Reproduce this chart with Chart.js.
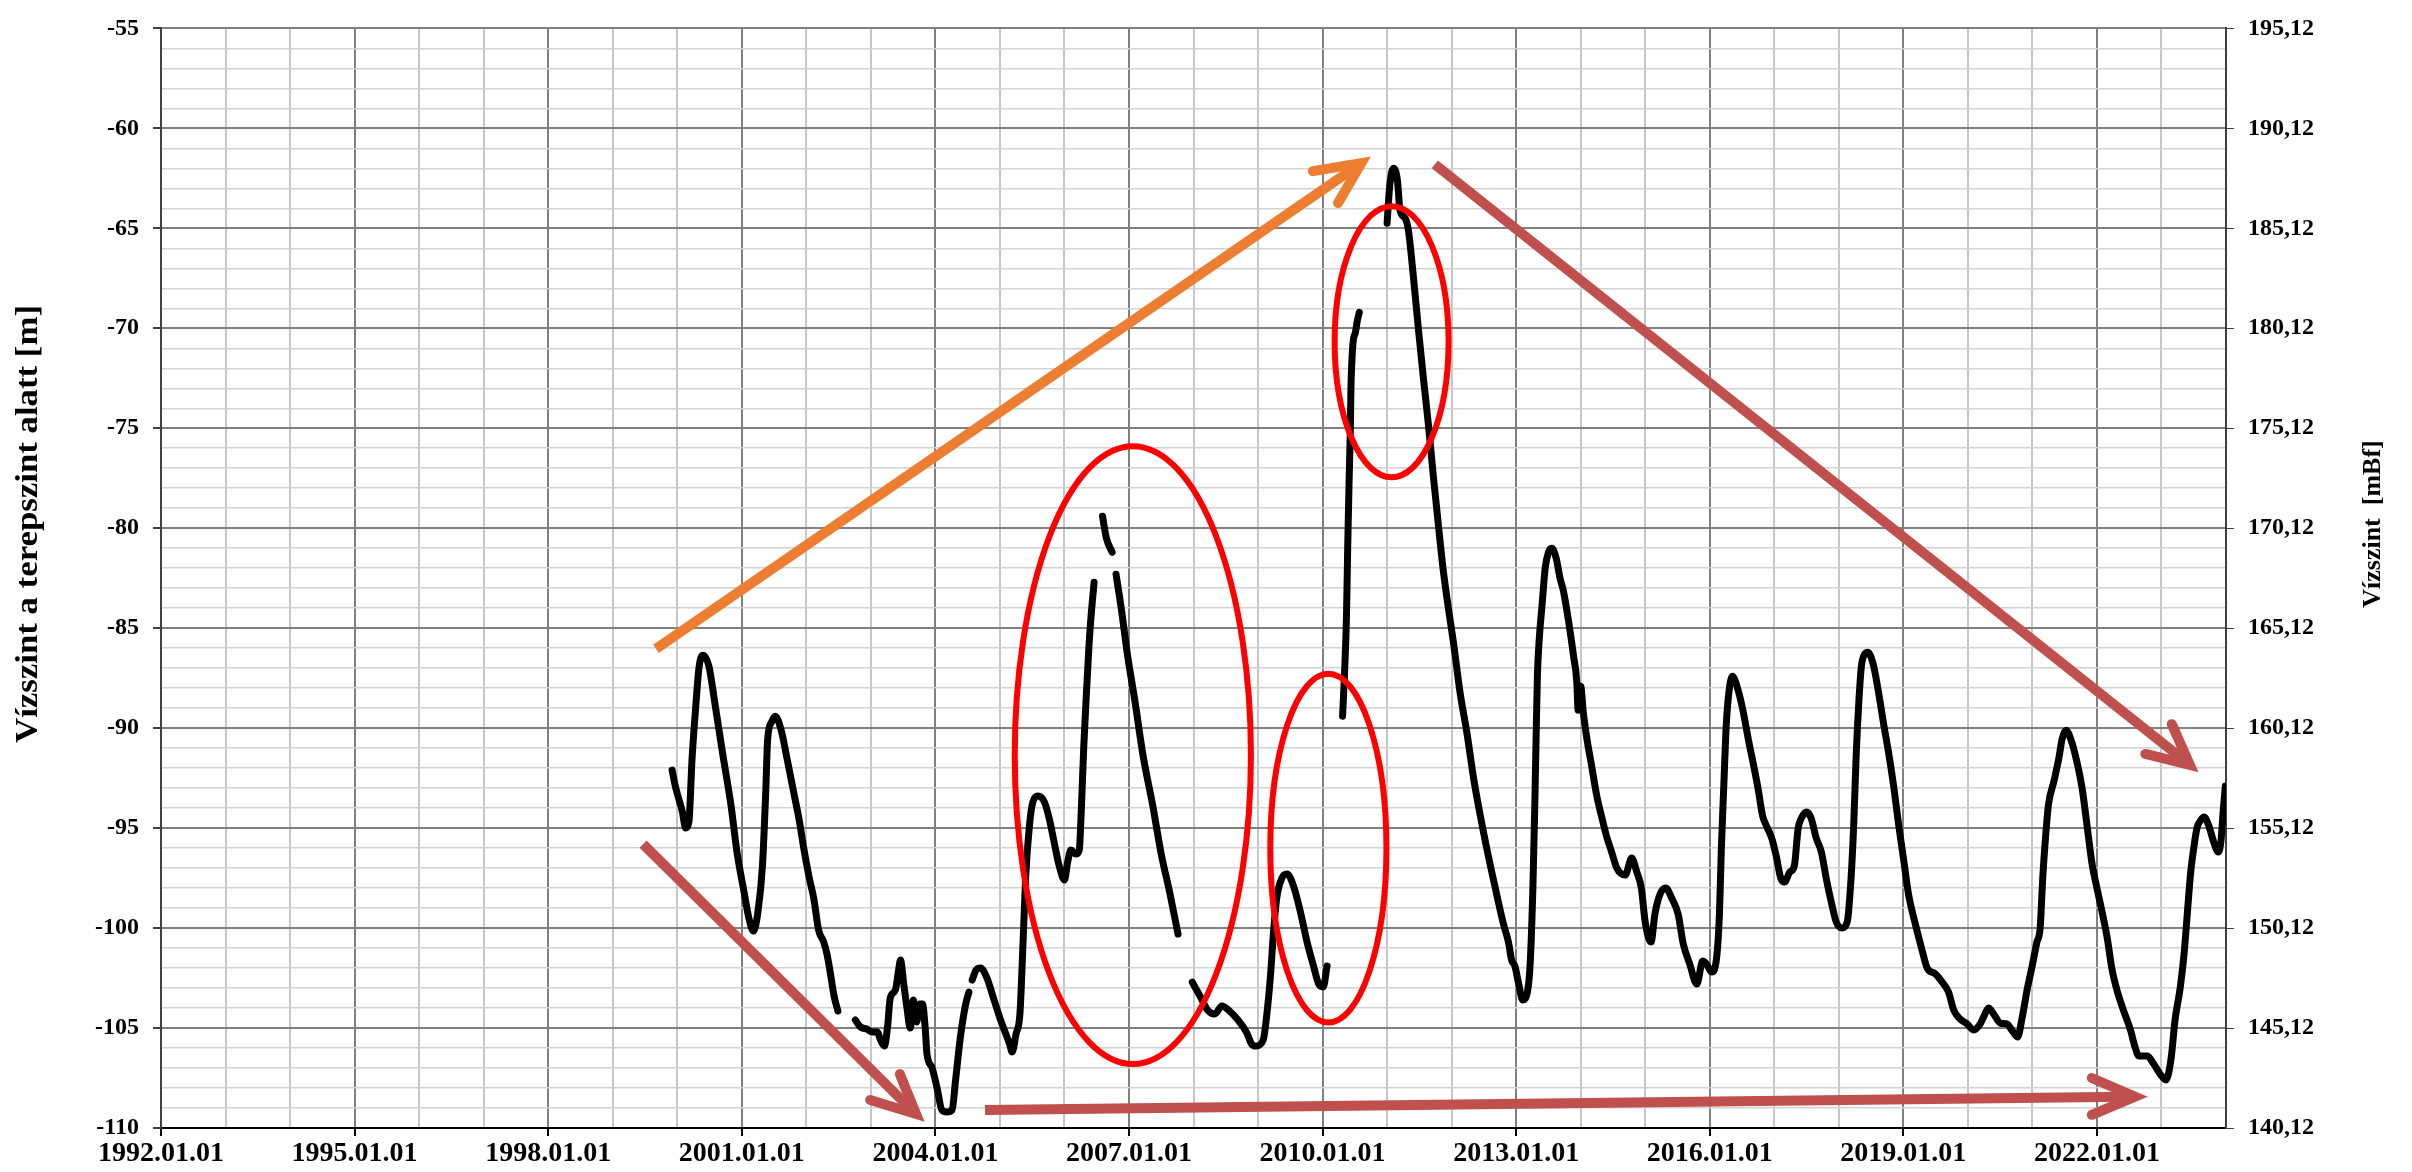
<!DOCTYPE html>
<html>
<head>
<meta charset="utf-8">
<script src="https://cdn.jsdelivr.net/npm/chart.js@4.4.1/dist/chart.umd.min.js"></script>
<style>
    html, body { margin: 0; padding: 0; background: #fff; }
    #wrap { width: 2412px; height: 1172px; position: relative; }
</style>
</head>
<body>
<div id="wrap"><canvas id="chart"></canvas></div>
<script>
'use strict';

// idopontok tizedes evben; a null szintu elemek a meresi szuneteket jelolik
var dates = [
    1999.92, 1999.97, 2000.02, 2000.08, 2000.13, 2000.18, 2000.23, 2000.28, 2000.34, 2000.40,
    2000.49, 2000.59, 2000.70, 2000.83, 2000.93, 2001.03, 2001.11, 2001.18, 2001.25, 2001.32,
    2001.37, 2001.40, 2001.46, 2001.52, 2001.61, 2001.70, 2001.81, 2001.89, 2001.96, 2002.04,
    2002.12, 2002.19, 2002.27, 2002.32, 2002.37, 2002.43, 2002.49, 2002.62,
    2002.76, 2002.84, 2002.94, 2003.02, 2003.10, 2003.15, 2003.21, 2003.26, 2003.30, 2003.38,
    2003.43, 2003.46, 2003.51, 2003.56, 2003.61, 2003.66, 2003.71, 2003.76, 2003.80, 2003.84,
    2003.87, 2003.95, 2004.03, 2004.10, 2004.18, 2004.26, 2004.31, 2004.39, 2004.47, 2004.52, 2004.545,
    2004.57, 2004.63, 2004.70, 2004.80, 2004.90, 2005.00, 2005.08, 2005.15, 2005.19, 2005.25,
    2005.31, 2005.36, 2005.40, 2005.46, 2005.51, 2005.59, 2005.69, 2005.77, 2005.84, 2005.92,
    2006.00, 2006.05, 2006.10, 2006.18, 2006.23, 2006.26, 2006.30, 2006.34, 2006.38, 2006.41, 2006.46, 2006.52,
    2006.59, 2006.65, 2006.74, 2006.77,
    2006.80, 2006.88, 2006.98, 2007.09, 2007.22, 2007.37, 2007.50, 2007.63, 2007.76, 2007.87,
    2007.98, 2008.10, 2008.23, 2008.33, 2008.44, 2008.56, 2008.69, 2008.82, 2008.90, 2008.97,
    2009.08, 2009.13, 2009.19, 2009.24, 2009.29, 2009.37, 2009.45, 2009.55, 2009.65, 2009.76,
    2009.86, 2009.94, 2010.01, 2010.07, 2010.19,
    2010.31, 2010.34, 2010.37, 2010.39, 2010.41, 2010.43, 2010.44, 2010.47, 2010.51, 2010.54, 2010.57, 2010.78,
    2011.00, 2011.04, 2011.10, 2011.16, 2011.20, 2011.28, 2011.33, 2011.41, 2011.49, 2011.56,
    2011.64, 2011.72, 2011.80, 2011.87, 2011.95, 2012.03, 2012.13, 2012.24, 2012.34, 2012.44,
    2012.55, 2012.67, 2012.80, 2012.88, 2012.93, 2012.98, 2013.04, 2013.10, 2013.18, 2013.22,
    2013.26, 2013.29, 2013.31, 2013.33, 2013.36, 2013.40, 2013.45, 2013.50, 2013.55, 2013.62,
    2013.68, 2013.73, 2013.81, 2013.89, 2013.94, 2013.96, 2014.00, 2014.04, 2014.09, 2014.17,
    2014.25, 2014.33, 2014.40, 2014.48, 2014.56, 2014.69, 2014.79, 2014.87, 2014.94, 2015.00,
    2015.09, 2015.15, 2015.23, 2015.32, 2015.41, 2015.51, 2015.59, 2015.69, 2015.80, 2015.89,
    2015.95, 2016.03, 2016.10, 2016.15, 2016.18, 2016.22, 2016.25, 2016.29, 2016.35, 2016.44,
    2016.52, 2016.60, 2016.67, 2016.75, 2016.82, 2016.88, 2016.96, 2017.03, 2017.10, 2017.16,
    2017.24, 2017.31, 2017.37, 2017.42, 2017.50, 2017.57, 2017.65, 2017.73, 2017.81, 2017.89,
    2017.96, 2018.05, 2018.13, 2018.19, 2018.23, 2018.27, 2018.31, 2018.35, 2018.40, 2018.45,
    2018.54, 2018.62, 2018.70, 2018.77, 2018.85, 2018.93, 2019.01, 2019.08, 2019.19, 2019.29,
    2019.37, 2019.50, 2019.60, 2019.70, 2019.78, 2019.88, 2019.99, 2020.09, 2020.19, 2020.25,
    2020.32, 2020.40, 2020.50, 2020.61, 2020.68, 2020.77, 2020.84, 2020.92, 2020.99, 2021.07,
    2021.12, 2021.16, 2021.20, 2021.25, 2021.33, 2021.41, 2021.46, 2021.52, 2021.61, 2021.69,
    2021.77, 2021.84, 2021.92, 2022.00, 2022.08, 2022.16, 2022.23, 2022.31, 2022.41, 2022.52,
    2022.59, 2022.65, 2022.78, 2022.88, 2022.98, 2023.07, 2023.15, 2023.21, 2023.29, 2023.35,
    2023.40, 2023.45, 2023.50, 2023.55, 2023.61, 2023.66, 2023.73, 2023.81, 2023.88, 2023.92,
    2023.96, 2023.99
];

// vizszint a terepszint alatt [m]
var levels = [
    -92.1, -92.9, -93.5, -94.2, -95.0, -94.7, -91.5, -89.2, -86.9, -86.35,
    -86.9, -88.9, -91.2, -93.8, -96.3, -98.1, -99.5, -100.15, -99.2, -96.9,
    -93.3, -90.6, -89.7, -89.4, -90.1, -91.5, -93.3, -94.6, -96.0, -97.4,
    -98.6, -100.1, -100.7, -101.3, -102.2, -103.4, -104.15, null,
    -104.6, -104.95, -105.05, -105.2, -105.2, -105.6, -105.9, -104.9, -103.5, -103.1,
    -102.1, -101.6, -102.8, -104.0, -105.0, -103.6, -104.7, -103.8, -103.8, -104.9,
    -106.3, -107.0, -108.05, -109.1, -109.2, -109.1, -107.7, -105.4, -103.8, -103.2, null,
    -102.6, -102.1, -102.0, -102.5, -103.5, -104.5, -105.2, -105.8, -106.2, -105.3,
    -104.3, -100.6, -97.4, -94.8, -93.7, -93.4, -93.7, -94.6, -95.7, -96.9,
    -97.6, -96.7, -96.1, -96.3, -96.1, -94.2, -90.9, -88.3, -85.9, -84.5, -82.7, null,
    -79.4, -80.5, -81.2, null,
    -82.3, -84.0, -86.4, -88.6, -91.4, -93.9, -96.3, -98.2, -100.3, null,
    -102.7, -103.4, -104.15, -104.3, -103.9, -104.15, -104.6, -105.2, -105.8, -105.9,
    -105.6, -104.5, -102.5, -100.2, -98.5, -97.5, -97.3, -97.9, -99.1, -100.7,
    -101.9, -102.8, -102.95, -101.9, null,
    -89.4, -87.3, -84.5, -80.9, -77.8, -75.1, -73.0, -70.8, -70.2, -69.6, -69.2, null,
    -64.75, -62.9, -62.0, -62.6, -64.1, -64.5, -65.1, -67.5, -70.2, -72.4,
    -74.8, -77.5, -80.0, -82.1, -84.0, -85.75, -88.2, -90.3, -92.5, -94.3,
    -96.1, -97.9, -99.75, -100.7, -101.6, -101.9, -102.8, -103.6, -103.1, -101.6,
    -97.9, -93.7, -90.3, -87.3, -85.45, -83.9, -82.0, -81.2, -81.0, -81.5,
    -82.5, -83.1, -84.6, -86.4, -87.7, -89.1, -87.9, -89.2, -90.4, -91.9,
    -93.4, -94.5, -95.4, -96.2, -97.0, -97.35, -96.5, -97.2, -98.0, -99.7,
    -100.7, -99.3, -98.3, -98.0, -98.5, -99.3, -100.8, -101.8, -102.8, -101.65,
    -101.8, -102.2, -101.65, -99.3, -96.0, -92.7, -90.2, -88.4, -87.4, -88.1,
    -89.2, -90.6, -91.7, -93.05, -94.4, -94.9, -95.5, -96.4, -97.5, -97.7,
    -97.2, -96.9, -95.0, -94.5, -94.2, -94.5, -95.5, -96.2, -97.6, -98.8,
    -99.7, -100.0, -99.7, -97.5, -94.9, -91.3, -88.7, -86.9, -86.3, -86.2,
    -86.9, -88.3, -89.9, -91.2, -92.9, -94.9, -96.7, -98.3, -99.85, -101.1,
    -102.0, -102.3, -102.7, -103.2, -104.1, -104.55, -104.8, -105.1, -104.8, -104.4,
    -104.0, -104.3, -104.75, -104.8, -105.1, -105.45, -104.5, -103.05, -102.0, -100.7,
    -100.0, -97.5, -95.6, -93.8, -92.7, -91.5, -90.55, -90.1, -90.7, -91.7,
    -93.0, -94.7, -96.7, -98.0, -99.2, -100.5, -102.0, -103.1, -104.1, -105.1,
    -105.95, -106.4, -106.4, -106.8, -107.3, -107.6, -106.5, -104.6, -103.0, -101.3,
    -99.3, -97.3, -96.0, -95.0, -94.6, -94.45, -94.85, -95.7, -96.2, -95.7,
    -94.0, -92.9
];

// tengelyfeliratok
var xTickLabels = ['1992.01.01', '1995.01.01', '1998.01.01', '2001.01.01', '2004.01.01', '2007.01.01',
    '2010.01.01', '2013.01.01', '2016.01.01', '2019.01.01', '2022.01.01'];
var leftTickLabels = ['-110', '-105', '-100', '-95', '-90', '-85', '-80', '-75', '-70', '-65', '-60', '-55'];
var rightTickLabels = ['140,12', '145,12', '150,12', '155,12', '160,12', '165,12', '170,12', '175,12',
    '180,12', '185,12', '190,12', '195,12'];
var leftTitle = 'Vízszint a terepszint alatt [m]';
var rightTitle = 'Vízszint  [mBf]';

// kezzel rajzolt jelolesek (ev, szint koordinatakban)
var arrows = [
    { color: '#ED7D31', width: 10, from: [1999.67, -86.03], to: [2010.60, -61.74], barbs: [[2009.85, -62.14], [2010.24, -63.73]] },
    { color: '#C0504D', width: 10, from: [2011.74, -61.8], to: [2023.44, -91.84], barbs: [[2022.75, -91.29], [2023.16, -89.8]] },
    { color: '#C0504D', width: 10, from: [1999.47, -95.8], to: [2003.70, -109.3], barbs: [[2002.99, -108.6], [2003.45, -107.3]] },
    { color: '#C0504D', width: 10, from: [2004.77, -109.1], to: [2022.59, -108.43], barbs: [[2021.92, -107.5], [2021.92, -109.34]] }
];
var ellipses = [
    { center: [2007.06, -91.35], rx: 1.83, ry: 15.45 },
    { center: [2010.09, -96.0], rx: 0.9, ry: 8.72 },
    { center: [2011.07, -70.67], rx: 0.883, ry: 6.78 }
];

var FONT = "'Liberation Serif', 'Times New Roman', serif";

var points = dates.map(function (d, i) {
    return { x: d, y: levels[i] };
});

function isMajorYear(v) {
    return (v - 1992) % 3 === 0;
}

// jelolesek rajzolasa a vonal fole
var markup = {
    id: 'markup',
    afterDatasetsDraw: function (chart) {
        var c = chart.ctx;
        var sx = chart.scales.x;
        var sy = chart.scales.y;
        function px(p) {
            return [sx.getPixelForValue(p[0]), sy.getPixelForValue(p[1])];
        }
        c.save();
        ellipses.forEach(function (e) {
            var cp = px(e.center);
            var rx = Math.abs(sx.getPixelForValue(e.center[0] + e.rx) - cp[0]);
            var ry = Math.abs(sy.getPixelForValue(e.center[1] + e.ry) - cp[1]);
            c.beginPath();
            c.ellipse(cp[0], cp[1], rx, ry, 0, 0, Math.PI * 2);
            c.strokeStyle = '#FF0000';
            c.lineWidth = 6;
            c.stroke();
        });
        arrows.forEach(function (a) {
            var f = px(a.from);
            var t = px(a.to);
            var b1 = px(a.barbs[0]);
            var b2 = px(a.barbs[1]);
            var len = Math.hypot(t[0] - f[0], t[1] - f[1]);
            var k = (len - a.width) / len;
            c.strokeStyle = a.color;
            c.lineWidth = a.width;
            c.lineCap = 'butt';
            c.beginPath();
            c.moveTo(f[0], f[1]);
            c.lineTo(f[0] + (t[0] - f[0]) * k, f[1] + (t[1] - f[1]) * k);
            c.stroke();
            c.lineCap = 'round';
            c.lineJoin = 'miter';
            c.beginPath();
            c.moveTo(b1[0], b1[1]);
            c.lineTo(t[0], t[1]);
            c.lineTo(b2[0], b2[1]);
            c.stroke();
        });
        c.restore();
    },
    afterDraw: function (chart) {
        var c = chart.ctx;
        // fuggoleges tengelycim, hossza a mintahoz igazitva
        function vertical(text, x, y, size, length) {
            c.save();
            c.font = 'bold ' + size + 'px ' + FONT;
            var k = length ? length / c.measureText(text).width : 1;
            c.translate(x, y);
            c.rotate(-Math.PI / 2);
            c.scale(k, 1);
            c.fillStyle = '#000';
            c.textAlign = 'center';
            c.textBaseline = 'middle';
            c.fillText(text, 0, 0);
            c.restore();
        }
        vertical(leftTitle, 29, 524, 31, 438);
        vertical(rightTitle, 2373, 524, 26, 0);
    }
};

new Chart(document.getElementById('chart'), {
    type: 'line',
    data: {
        datasets: [{
            label: 'Vízszint',
            data: points,
            borderColor: '#000',
            borderWidth: 7,
            borderJoinStyle: 'round',
            borderCapStyle: 'round',
            pointRadius: 0,
            spanGaps: false,
            cubicInterpolationMode: 'monotone',
            fill: false
        }]
    },
    options: {
        responsive: true,
        maintainAspectRatio: false,
        animation: false,
        events: [],
        layout: { padding: { top: 21, left: 0, right: 0, bottom: 0 } },
        plugins: {
            legend: { display: false },
            tooltip: { enabled: false },
            title: { display: false }
        },
        scales: {
            x: {
                type: 'linear',
                min: 1992,
                max: 2024,
                ticks: {
                    stepSize: 1,
                    autoSkip: false,
                    maxRotation: 0,
                    color: '#000',
                    padding: 1,
                    font: { family: FONT, size: 28, weight: 'bold' },
                    callback: function (v) {
                        return isMajorYear(v) ? (xTickLabels[(v - 1992) / 3] || '') : '';
                    }
                },
                grid: {
                    color: function (ctx) { return isMajorYear(ctx.tick.value) ? '#808080' : '#C6C6C6'; },
                    lineWidth: 2,
                    tickLength: 8,
                    tickColor: function (ctx) { return isMajorYear(ctx.tick.value) ? '#000' : 'rgba(0,0,0,0)'; }
                },
                border: { color: '#000', width: 2 },
                afterFit: function (s) { s.height = 44; }
            },
            y: {
                type: 'linear',
                position: 'left',
                min: -110,
                max: -55,
                ticks: {
                    stepSize: 1,
                    autoSkip: false,
                    color: '#000',
                    padding: 14,
                    font: { family: FONT, size: 24, weight: 'bold' },
                    callback: function (v) {
                        return v % 5 === 0 ? leftTickLabels[(v + 110) / 5] : '';
                    }
                },
                grid: {
                    color: function (ctx) { return ctx.tick.value % 5 === 0 ? '#808080' : '#D2D2D2'; },
                    lineWidth: function (ctx) { return ctx.tick.value % 5 === 0 ? 2 : 1.5; },
                    tickLength: 8,
                    tickColor: function (ctx) { return ctx.tick.value % 5 === 0 ? '#404040' : 'rgba(0,0,0,0)'; }
                },
                border: { color: '#404040', width: 2 },
                afterFit: function (s) { s.width = 161; }
            },
            y2: {
                type: 'linear',
                position: 'right',
                min: -110,
                max: -55,
                ticks: {
                    stepSize: 5,
                    color: '#000',
                    padding: 14,
                    font: { family: FONT, size: 24, weight: 'bold' },
                    callback: function (v) {
                        return rightTickLabels[Math.round((v + 110) / 5)];
                    }
                },
                grid: { drawOnChartArea: false, tickLength: 8, color: '#404040' },
                border: { color: '#404040', width: 2 },
                afterFit: function (s) { s.width = 186; }
            }
        }
    },
    plugins: [markup]
});
</script>
</body>
</html>
